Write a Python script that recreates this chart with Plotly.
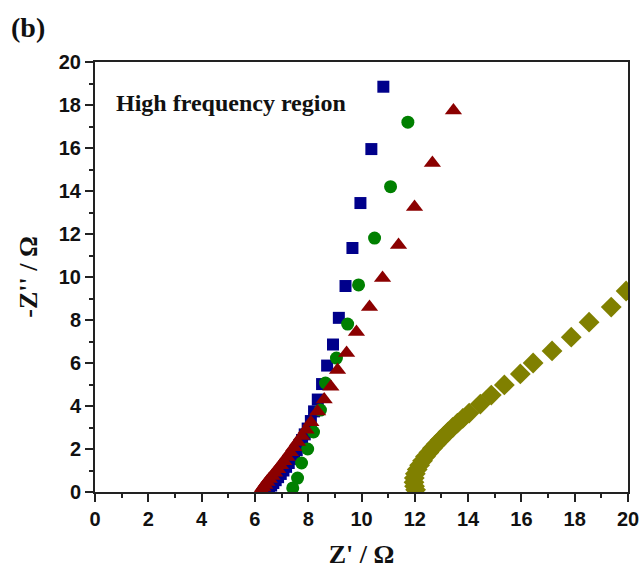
import plotly.graph_objects as go

# Blue squares
blue_x = [10.82, 10.37, 9.96, 9.66, 9.40, 9.15, 8.93, 8.71, 8.52, 8.36, 8.22,
          8.10, 7.98, 7.87, 7.77, 7.67, 7.57, 7.47, 7.37, 7.27, 7.17, 7.07,
          6.97, 6.87, 6.78, 6.69, 6.61, 6.53, 6.46]
blue_y = [18.85, 15.95, 13.44, 11.35, 9.58, 8.10, 6.86, 5.88, 5.02, 4.30, 3.75,
          3.30, 2.95, 2.68, 2.42, 2.18, 1.95, 1.74, 1.54, 1.35, 1.17, 1.00,
          0.84, 0.69, 0.55, 0.42, 0.30, 0.18, 0.07]

# Green circles
green_x = [11.74, 11.09, 10.49, 9.89, 9.48, 9.06, 8.65, 8.46, 8.20, 7.98, 7.75, 7.60, 7.42]
green_y = [17.20, 14.20, 11.81, 9.63, 7.81, 6.23, 5.07, 3.81, 2.79, 2.00, 1.35, 0.65, 0.19]

# Dark red triangles
red_x = [13.45, 12.66, 11.99, 11.39, 10.79, 10.30, 9.81, 9.44, 9.10, 8.85, 8.60,
         8.35, 8.10, 7.92, 7.76, 7.60, 7.46, 7.33, 7.20, 7.08, 6.96, 6.85, 6.74,
         6.64, 6.54, 6.45, 6.37, 6.30, 6.24]
red_y = [17.75, 15.30, 13.26, 11.49, 9.95, 8.60, 7.44, 6.47, 5.67, 4.90, 4.30,
         3.75, 3.25, 2.90, 2.60, 2.33, 2.08, 1.85, 1.63, 1.43, 1.24, 1.06, 0.90,
         0.75, 0.60, 0.46, 0.33, 0.21, 0.10]

# Olive diamonds
olive_x = [19.93, 19.37, 18.54, 17.87, 17.15, 16.44, 15.96, 15.36, 14.87, 14.46,
           14.04, 13.80, 13.60, 13.42, 13.25, 13.10, 12.95, 12.80, 12.66, 12.53,
           12.40, 12.29, 12.18, 12.09, 12.02, 11.98, 11.97, 11.99, 12.03]
olive_y = [9.35, 8.60, 7.90, 7.20, 6.56, 6.00, 5.49, 4.98, 4.51, 4.09,
           3.67, 3.42, 3.20, 3.00, 2.80, 2.60, 2.42, 2.22, 2.03, 1.84,
           1.65, 1.45, 1.25, 1.05, 0.85, 0.65, 0.45, 0.27, 0.10]

x_ticks = list(range(0, 21, 2))
y_ticks = list(range(0, 21, 2))

fig = go.Figure()
fig.add_trace(go.Scatter(x=olive_x, y=olive_y, mode="markers",
                         marker=dict(symbol="diamond", size=16, color="#808000"),
                         showlegend=False))
fig.add_trace(go.Scatter(x=blue_x, y=blue_y, mode="markers",
                         marker=dict(symbol="square", size=12, color="#00008B",
                                     line=dict(width=0)),
                         showlegend=False))
fig.add_trace(go.Scatter(x=green_x, y=green_y, mode="markers",
                         marker=dict(symbol="circle", size=13, color="#008000"),
                         showlegend=False))
fig.add_trace(go.Scatter(x=red_x, y=red_y, mode="markers",
                         marker=dict(symbol="triangle-up", size=15, color="#8B0000"),
                         showlegend=False))

tickfont = dict(family="Liberation Sans, Arial", size=20, color="#111", weight="bold")
titlefont = dict(family="Liberation Serif, Times New Roman", size=26, color="#111", weight="bold")

axis_common = dict(
    showline=True, linewidth=2, linecolor="#222", mirror=True,
    ticks="outside", ticklen=8, tickwidth=1.5, tickcolor="#222",
    showgrid=False, zeroline=False, tickfont=tickfont, automargin=False,
    ticklabeloverflow="allow",
    minor=dict(dtick=1, ticks="outside", ticklen=4, tickwidth=1.5, tickcolor="#222", showgrid=False),
)

fig.update_xaxes(range=[0, 20], tickvals=x_ticks, ticktext=[str(v) for v in x_ticks],
                 title=dict(text="Z' / Ω", font=titlefont, standoff=16), **axis_common)
fig.update_yaxes(range=[0, 20], tickvals=y_ticks, ticktext=[str(v) for v in y_ticks],
                 title=dict(text="-Z'' / Ω", font=titlefont, standoff=14), **axis_common)

fig.add_annotation(text="High frequency region", xref="paper", yref="paper",
                   x=0.035, y=0.905, xanchor="left", yanchor="middle", showarrow=False,
                   font=dict(family="Liberation Serif, Times New Roman", size=24, color="#111", weight="bold"))
fig.add_annotation(text="(b)", xref="paper", yref="paper",
                   x=-0.162, y=1.08, xanchor="left", yanchor="middle", showarrow=False,
                   font=dict(family="Liberation Serif, Times New Roman", size=28, color="#111", weight="bold"))

fig.update_layout(width=639, height=569, margin=dict(l=95, r=11, t=62, b=77),
                  plot_bgcolor="white", paper_bgcolor="white")

fig.write_html("out.html")
